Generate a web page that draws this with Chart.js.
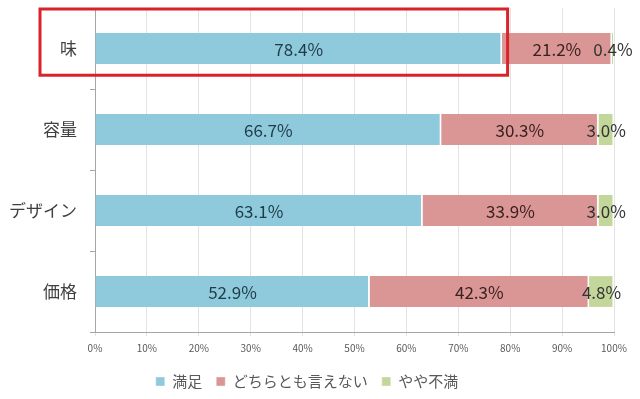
<!DOCTYPE html>
<html>
<head>
<meta charset="utf-8">
<script src="https://cdn.jsdelivr.net/npm/chart.js@4"></script>
<style>
html,body{margin:0;padding:0;background:#fff;}
#wrap{width:640px;height:399px;}
</style>
</head>
<body>
<div id="wrap"><canvas id="chart"></canvas></div>
<script>
const categories = ["味", "容量", "デザイン", "価格"];
const satisfied = [78.4, 66.7, 63.1, 52.9];
const neutral = [21.2, 30.3, 33.9, 42.3];
const unsatisfied = [0.4, 3.0, 3.0, 4.8];
const seriesNames = ["満足", "どちらとも言えない", "やや不満"];
const xTicks = [0, 10, 20, 30, 40, 50, 60, 70, 80, 90, 100];

const FONT = "'Noto Sans CJK JP', 'Noto Sans', sans-serif";

// values drawn in the middle of each segment
const segLabels = {
    id: "segLabels",
    afterDatasetsDraw(chart){
        const ctx = chart.ctx;
        ctx.save();
        ctx.font = "17px " + FONT;
        ctx.textAlign = "center";
        ctx.textBaseline = "middle";
        chart.data.datasets.forEach((ds, di) => {
            const meta = chart.getDatasetMeta(di);
            meta.data.forEach((bar, i) => {
                const x = (bar.x + bar.base) / 2;
                ctx.fillStyle = ds.labelColor;
                ctx.fillText(ds.data[i].toFixed(1) + "%", x, bar.y + 1);
            });
        });
        ctx.restore();
    }
};

// red highlight frame around the first row
const highlight = {
    id: "highlight",
    afterDraw(chart){
        const xs = chart.scales.x;
        const ys = chart.scales.y;
        const ctx = chart.ctx;
        const half = (ys.getPixelForValue(1) - ys.getPixelForValue(0)) / 2;
        const top = ys.getPixelForValue(0) - half + 1;
        const bottom = ys.getPixelForValue(0) + half * 0.66;
        const left = 40;
        const right = xs.getPixelForValue(satisfied[0] + 1.1);
        ctx.save();
        ctx.strokeStyle = "#d9222a";
        ctx.lineWidth = 3;
        ctx.strokeRect(left, top, right - left, bottom - top);
        ctx.restore();
    }
};

new Chart(document.getElementById("chart"), {
    type: "bar",
    data: {
        labels: categories,
        datasets: [
            {label: seriesNames[0], data: satisfied, backgroundColor: "#8ecadb", labelColor: "#1f3b48"},
            {label: seriesNames[1], data: neutral, backgroundColor: "#da9694", labelColor: "#3a2222"},
            {label: seriesNames[2], data: unsatisfied, backgroundColor: "#c4d79b", labelColor: "#333333"}
        ].map(d => Object.assign(d, {
            borderColor: "#ffffff",
            borderWidth: {left: 0, right: 1.5, top: 0, bottom: 0},
            borderSkipped: false,
            barPercentage: 0.38,
            categoryPercentage: 1
        }))
    },
    options: {
        indexAxis: "y",
        responsive: true,
        maintainAspectRatio: false,
        animation: false,
        layout: {padding: {top: 8, right: 26, left: 0, bottom: 0}},
        plugins: {
            legend: {
                position: "bottom",
                labels: {
                    boxWidth: 9,
                    boxHeight: 9,
                    padding: 14,
                    color: "#595959",
                    font: {family: FONT, size: 15}
                }
            },
            tooltip: {enabled: false}
        },
        scales: {
            x: {
                stacked: true,
                min: 0,
                max: 100,
                afterBuildTicks(axis){
                    axis.ticks = xTicks.map(v => ({value: v}));
                },
                grid: {color: "#e3e3e3", drawTicks: true, tickLength: 4},
                border: {color: "#a6a6a6"},
                ticks: {
                    color: "#595959",
                    font: {family: FONT, size: 10},
                    padding: 6,
                    maxRotation: 0,
                    callback: v => v + "%"
                }
            },
            y: {
                stacked: true,
                afterFit(axis){
                    axis.width = 95;
                    axis.paddingTop = 0;
                    axis.paddingBottom = 0;
                },
                grid: {offset: true, drawOnChartArea: false, tickLength: 5, color: "#a6a6a6"},
                border: {color: "#a6a6a6"},
                ticks: {
                    color: "#404040",
                    font: {family: FONT, size: 17},
                    padding: 13
                }
            }
        }
    },
    plugins: [segLabels, highlight]
});
</script>
</body>
</html>
